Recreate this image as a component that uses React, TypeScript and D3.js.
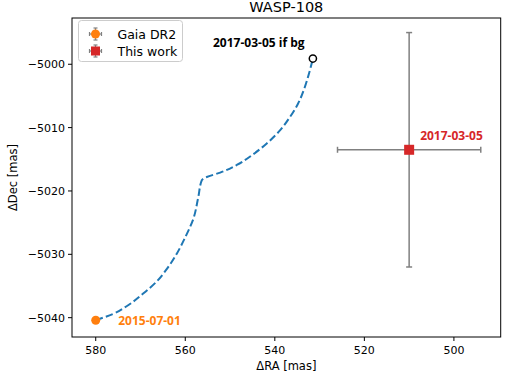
import React from "react";
import * as d3 from "d3";

// background track (if the companion were a background star)
const trackRA = [580, 576.1, 573.1, 569.4, 566.4, 564.1, 561.9, 560.0, 558.2, 557.1, 556.3, 555.2, 552.2, 548.5, 544.8, 541.8, 538.8, 536.6, 534.8, 533.3, 532.3, 531.5];
const trackDec = [-5040.4, -5039.4, -5038.2, -5036.2, -5034.3, -5032.3, -5029.9, -5027.3, -5024.4, -5021.0, -5018.3, -5017.8, -5017.1, -5015.9, -5014.2, -5012.5, -5010.4, -5008.3, -5006.2, -5003.6, -5001.3, -4999.1];

const gaia = { ra: 580, dec: -5040.4, label: "2015-07-01" };
const thisWork = { ra: 510, dec: -5013.5, raErr: 16, decLo: -5032, decHi: -4995, label: "2017-03-05" };
const bgPoint = { ra: 531.5, dec: -4999.1, label: "2017-03-05 if bg" };

const xTicks = [580, 560, 540, 520, 500];
const yTicks = [-5000, -5010, -5020, -5030, -5040];

const W = 513;
const H = 374;
const margin = { left: 72, right: 12.3, top: 18, bottom: 37 };

const fmt = (v: number) => (v < 0 ? "\u2212" + Math.abs(v) : String(v));

export default function App() {
  const x = d3.scaleLinear().domain([585.3, 489.55]).range([margin.left, W - margin.right]);
  const y = d3.scaleLinear().domain([-5043.05, -4992.7]).range([H - margin.bottom, margin.top]);

  const pts = trackRA.map((r, i) => [r, trackDec[i]] as [number, number]);
  const line = d3
    .line<[number, number]>()
    .x((d) => x(d[0]))
    .y((d) => y(d[1]))
    .curve(d3.curveMonotoneY);

  const grey = "#808080";
  const tickFont = "DejaVu Sans, sans-serif";
  const annFont = "'Open Sans', sans-serif";
  const px0 = margin.left;
  const px1 = W - margin.right;
  const py0 = margin.top;
  const py1 = H - margin.bottom;

  const tx = x(thisWork.ra);
  const ty = y(thisWork.dec);

  return (
    <svg width={W} height={H} style={{ position: "absolute", left: 0, top: 0, background: "#fff" }}>
      <text x={(px0 + px1) / 2} y={12} textAnchor="middle" fontFamily={tickFont} fontSize={14.5}>
        WASP-108
      </text>

      {/* track */}
      <path d={line(pts) || ""} fill="none" stroke="#1f77b4" strokeWidth={2} strokeDasharray="7.4,3.2" />

      {/* this work error bars */}
      <g stroke={grey} strokeWidth={1.5}>
        <line x1={x(thisWork.ra + thisWork.raErr)} x2={x(thisWork.ra - thisWork.raErr)} y1={ty} y2={ty} />
        <line x1={tx} x2={tx} y1={y(thisWork.decLo)} y2={y(thisWork.decHi)} />
        <line x1={x(thisWork.ra + thisWork.raErr)} x2={x(thisWork.ra + thisWork.raErr)} y1={ty - 3} y2={ty + 3} />
        <line x1={x(thisWork.ra - thisWork.raErr)} x2={x(thisWork.ra - thisWork.raErr)} y1={ty - 3} y2={ty + 3} />
        <line x1={tx - 3} x2={tx + 3} y1={y(thisWork.decLo)} y2={y(thisWork.decLo)} />
        <line x1={tx - 3} x2={tx + 3} y1={y(thisWork.decHi)} y2={y(thisWork.decHi)} />
      </g>
      <rect x={tx - 5} y={ty - 5} width={10} height={10} fill="#d62728" />
      <text x={x(thisWork.ra) + 11} y={ty - 10} fontFamily={annFont} fontWeight="bold" fontSize={12} fill="#d62728">
        {thisWork.label}
      </text>

      {/* Gaia DR2 */}
      <circle cx={x(gaia.ra)} cy={y(gaia.dec)} r={4.5} fill="#ff7f0e" />
      <text x={x(gaia.ra) + 22.5} y={y(gaia.dec) + 5} fontFamily={annFont} fontWeight="bold" fontSize={12} fill="#ff7f0e">
        {gaia.label}
      </text>

      {/* background prediction */}
      <circle cx={x(bgPoint.ra)} cy={y(bgPoint.dec)} r={3.6} fill="#fff" stroke="#000" strokeWidth={1.5} />
      <text x={213} y={47} fontFamily={annFont} fontWeight="bold" fontSize={12} fill="#000">
        {bgPoint.label}
      </text>

      {/* frame */}
      <rect x={px0} y={py0} width={px1 - px0} height={py1 - py0} fill="none" stroke="#000" strokeWidth={1} />

      {/* x ticks */}
      {xTicks.map((t) => (
        <g key={t} transform={`translate(${x(t)},${py1})`}>
          <line y1={0} y2={4} stroke="#000" />
          <text y={17} textAnchor="middle" fontFamily={tickFont} fontSize={11}>
            {fmt(t)}
          </text>
        </g>
      ))}
      {yTicks.map((t) => (
        <g key={t} transform={`translate(${px0},${y(t)})`}>
          <line x1={-4} x2={0} stroke="#000" />
          <text x={-7} y={4} textAnchor="end" fontFamily={tickFont} fontSize={11}>
            {fmt(t)}
          </text>
        </g>
      ))}

      <text x={(px0 + px1) / 2} y={370} textAnchor="middle" fontFamily={tickFont} fontSize={11.5}>
        ΔRA [mas]
      </text>
      <text transform={`translate(17,${(py0 + py1) / 2}) rotate(-90)`} textAnchor="middle" fontFamily={tickFont} fontSize={11.5}>
        ΔDec [mas]
      </text>

      {/* legend */}
      <rect x={78.5} y={20.5} width={104} height={41} rx={3} fill="#fff" fillOpacity={0.8} stroke="#ccc" />
      {[
        { name: "Gaia DR2", color: "#ff7f0e", square: false },
        { name: "This work", color: "#d62728", square: true },
      ].map((d, i) => {
        const cy = 34 + i * 17;
        const cx = 95.5;
        return (
          <g key={d.name}>
            <g stroke={grey} strokeWidth={1.2}>
              <line x1={cx - 6} x2={cx + 6} y1={cy} y2={cy} />
              <line x1={cx} x2={cx} y1={cy - 6} y2={cy + 6} />
              <line x1={cx - 6} x2={cx - 6} y1={cy - 2} y2={cy + 2} />
              <line x1={cx + 6} x2={cx + 6} y1={cy - 2} y2={cy + 2} />
              <line x1={cx - 2} x2={cx + 2} y1={cy - 6} y2={cy - 6} />
              <line x1={cx + 2} x2={cx - 2} y1={cy + 6} y2={cy + 6} />
            </g>
            {d.square ? (
              <rect x={cx - 4.5} y={cy - 4.5} width={9} height={9} fill={d.color} />
            ) : (
              <circle cx={cx} cy={cy} r={4.5} fill={d.color} />
            )}
            <text x={117.5} y={cy + 4.5} fontFamily={tickFont} fontSize={12.5}>
              {d.name}
            </text>
          </g>
        );
      })}
    </svg>
  );
}
